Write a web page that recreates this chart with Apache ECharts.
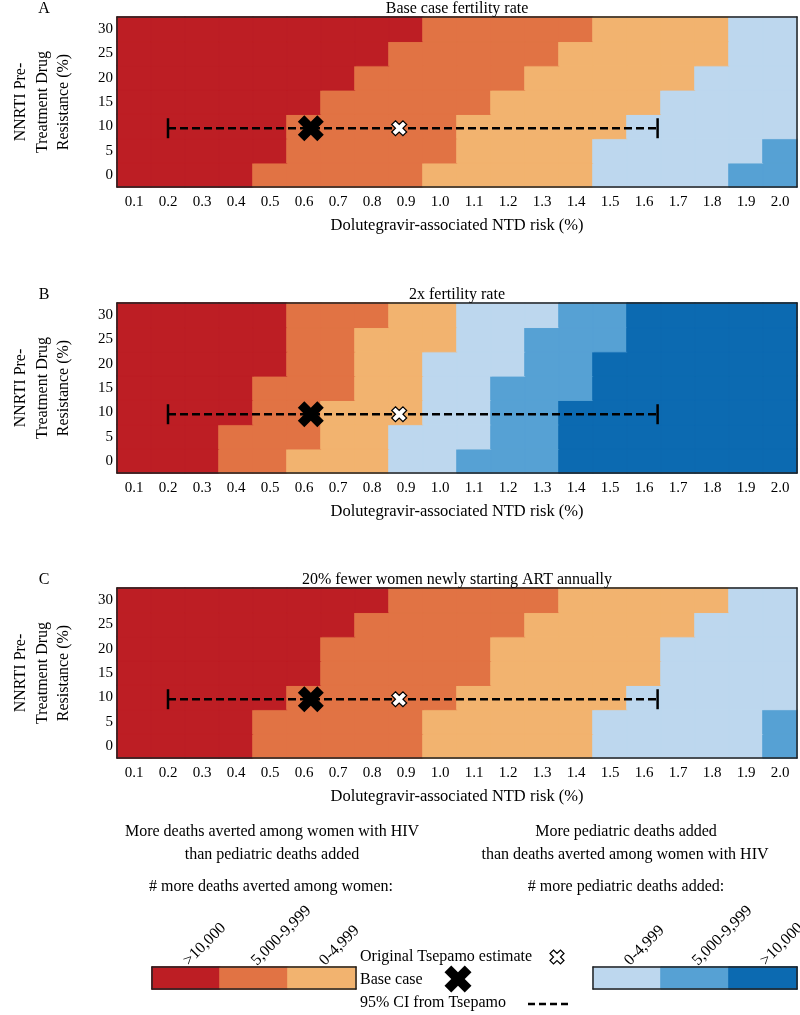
<!DOCTYPE html>
<html>
<head>
<meta charset="utf-8">
<script src="https://cdn.jsdelivr.net/npm/echarts@6/dist/echarts.min.js"></script>
<style>
html,body{margin:0;padding:0;background:#fff;}
#main{width:800px;height:1015px;}
</style>
</head>
<body>
<div id="main"></div>
<script>
(function(){
    // axis categories
    var riskLabels = ['0.1','0.2','0.3','0.4','0.5','0.6','0.7','0.8','0.9','1.0',
                      '1.1','1.2','1.3','1.4','1.5','1.6','1.7','1.8','1.9','2.0'];
    var resistLabels = ['0','5','10','15','20','25','30'];

    // outcome groups: 0-2 deaths averted among women, 3-5 pediatric deaths added
    var groupColors = ['#bd1e24','#e17344','#f2b36f','#bdd7ee','#56a1d4','#0c6ab1'];
    var leftGroups = ['>10,000','5,000-9,999','0-4,999'];
    var rightGroups = ['0-4,999','5,000-9,999','>10,000'];

    var panelTitles = ['Base case fertility rate','2x fertility rate','20% fewer women newly starting ART annually'];
    var panelLetters = ['A','B','C'];

    // one row per resistance level, 0% first
    var panelA = [
        [0,0,0,0,1,1,1,1,1,2,2,2,2,2,3,3,3,3,4,4],
        [0,0,0,0,0,1,1,1,1,1,2,2,2,2,3,3,3,3,3,4],
        [0,0,0,0,0,1,1,1,1,1,2,2,2,2,2,3,3,3,3,3],
        [0,0,0,0,0,0,1,1,1,1,1,2,2,2,2,2,3,3,3,3],
        [0,0,0,0,0,0,0,1,1,1,1,1,2,2,2,2,2,3,3,3],
        [0,0,0,0,0,0,0,0,1,1,1,1,1,2,2,2,2,2,3,3],
        [0,0,0,0,0,0,0,0,0,1,1,1,1,1,2,2,2,2,3,3]
    ];
    var panelB = [
        [0,0,0,1,1,2,2,2,3,3,4,4,4,5,5,5,5,5,5,5],
        [0,0,0,1,1,1,2,2,3,3,3,4,4,5,5,5,5,5,5,5],
        [0,0,0,0,1,1,2,2,2,3,3,4,4,5,5,5,5,5,5,5],
        [0,0,0,0,1,1,1,2,2,3,3,4,4,4,5,5,5,5,5,5],
        [0,0,0,0,0,1,1,2,2,3,3,3,4,4,5,5,5,5,5,5],
        [0,0,0,0,0,1,1,2,2,2,3,3,4,4,4,5,5,5,5,5],
        [0,0,0,0,0,1,1,1,2,2,3,3,3,4,4,5,5,5,5,5]
    ];
    var panelC = [
        [0,0,0,0,1,1,1,1,1,2,2,2,2,2,3,3,3,3,3,4],
        [0,0,0,0,1,1,1,1,1,2,2,2,2,2,3,3,3,3,3,4],
        [0,0,0,0,0,1,1,1,1,1,2,2,2,2,2,3,3,3,3,3],
        [0,0,0,0,0,0,1,1,1,1,1,2,2,2,2,2,3,3,3,3],
        [0,0,0,0,0,0,1,1,1,1,1,2,2,2,2,2,3,3,3,3],
        [0,0,0,0,0,0,0,1,1,1,1,1,2,2,2,2,2,3,3,3],
        [0,0,0,0,0,0,0,0,1,1,1,1,1,2,2,2,2,2,3,3]
    ];

    // NTD risk (%), resistance (%)
    var baseCase = [0.62, 9.6];
    var tsepamo = [0.88, 9.6];
    var tsepamoCI = [0.2, 1.64];

    var font = 'Liberation Serif';
    // bold X shape, 10x10 box
    var xShape = [[2.5,0],[5,2.5],[7.5,0],[10,2.5],[7.5,5],[10,7.5],[7.5,10],[5,7.5],[2.5,10],[0,7.5],[2.5,5],[0,2.5]];
    var xPath = 'path://M' + xShape.map(function(p){ return p.join(','); }).join(' L') + ' Z';
    var frame = {show: true, onZero: false, lineStyle: {color: '#222', width: 1.5}};
    var hidden = {axisTick: {show: false}, axisLabel: {show: false}, splitLine: {show: false}};

    var cell = function(c, r, g){
        var col = groupColors[g];
        return {value: [c, r, g], itemStyle: {color: col, borderColor: col, borderWidth: 1}};
    };

    var myChart = echarts.init(document.getElementById('main'));

    var grids = [], xAxes = [], yAxes = [], series = [], titles = [];
    var tops = [17, 303, 588];

    [panelA, panelB, panelC].forEach(function(rows, i){
        grids.push({left: 117, top: tops[i], width: 680, height: 170, outerBoundsMode: 'none'});
        // category axes (bottom / left)
        xAxes.push({
            type: 'category', gridIndex: i, data: riskLabels, z: 3,
            axisLine: frame, axisTick: {show: false},
            axisLabel: {color: '#000', fontFamily: font, fontSize: 15, margin: 8},
            name: 'Dolutegravir-associated NTD risk (%)', nameLocation: 'middle', nameGap: 30,
            nameTextStyle: {color: '#000', fontFamily: font, fontSize: 16.5}
        });
        yAxes.push({
            type: 'category', gridIndex: i, data: resistLabels, z: 3,
            axisLine: frame, axisTick: {show: false},
            axisLabel: {color: '#000', fontFamily: font, fontSize: 15, margin: 4},
            name: 'NNRTI Pre-\nTreatment Drug\nResistance (%)', nameLocation: 'middle', nameGap: 42,
            nameRotate: 90,
            nameTextStyle: {color: '#000', fontFamily: font, fontSize: 16, lineHeight: 21.5}
        });
        // value axes for markers (top / right), also close the frame
        xAxes.push(Object.assign({
            type: 'value', gridIndex: i, min: 0.05, max: 2.05, position: 'top', z: 3, axisLine: frame
        }, hidden));
        yAxes.push(Object.assign({
            type: 'value', gridIndex: i, min: -2.5, max: 32.5, position: 'right', z: 3, axisLine: frame
        }, hidden));

        titles.push({
            text: panelTitles[i], left: 457, top: tops[i] - 16, textAlign: 'center', padding: 0,
            textStyle: {color: '#000', fontFamily: font, fontSize: 16, fontWeight: 'normal'}
        });
        titles.push({
            text: panelLetters[i], left: 44, top: tops[i] - 16, textAlign: 'center', padding: 0,
            textStyle: {color: '#000', fontFamily: font, fontSize: 16, fontWeight: 'normal'}
        });

        var cells = [];
        rows.forEach(function(row, r){
            row.forEach(function(g, c){ cells.push(cell(c, r, g)); });
        });
        series.push({
            type: 'heatmap', xAxisIndex: i * 2, yAxisIndex: i * 2, data: cells,
            emphasis: {disabled: true}
        });
        series.push({
            type: 'line', xAxisIndex: i * 2 + 1, yAxisIndex: i * 2 + 1, z: 4,
            data: [[tsepamoCI[0], baseCase[1]], [tsepamoCI[1], baseCase[1]]],
            symbol: 'none', lineStyle: {color: '#000', width: 2.5, type: [8, 4]}
        });
        series.push({
            type: 'scatter', xAxisIndex: i * 2 + 1, yAxisIndex: i * 2 + 1, z: 4,
            data: [[tsepamoCI[0], baseCase[1]], [tsepamoCI[1], baseCase[1]]],
            symbol: 'rect', symbolSize: [2.5, 20], itemStyle: {color: '#000', opacity: 1}
        });
        series.push({
            type: 'scatter', xAxisIndex: i * 2 + 1, yAxisIndex: i * 2 + 1, z: 5,
            data: [baseCase], symbol: xPath, symbolSize: 26, itemStyle: {color: '#000', opacity: 1}
        });
        series.push({
            type: 'scatter', xAxisIndex: i * 2 + 1, yAxisIndex: i * 2 + 1, z: 5,
            data: [tsepamo], symbol: xPath, symbolSize: 15,
            itemStyle: {color: '#fff', borderColor: '#000', borderWidth: 1.2, opacity: 1}
        });
    });

    // colour keys as small heatmaps
    [[leftGroups, 152, 0], [rightGroups, 593, 3]].forEach(function(k, j){
        var gi = 3 + j;
        grids.push({left: k[1], top: 967, width: 204, height: 22, outerBoundsMode: 'none'});
        xAxes.push({
            type: 'category', gridIndex: gi, data: k[0], position: 'top', z: 3,
            axisLine: {show: false}, axisTick: {show: false},
            axisLabel: {color: '#000', fontFamily: font, fontSize: 16, rotate: 45, margin: 4}
        });
        yAxes.push({
            type: 'category', gridIndex: gi, data: [''], z: 3,
            axisLine: {show: false}, axisTick: {show: false}, axisLabel: {show: false}
        });
        ['bottom', 'top'].forEach(function(pos){
            xAxes.push(Object.assign({type: 'value', gridIndex: gi, position: pos, min: 0, max: 1, z: 3, axisLine: frame}, hidden));
        });
        ['left', 'right'].forEach(function(pos){
            yAxes.push(Object.assign({type: 'value', gridIndex: gi, position: pos, min: 0, max: 1, z: 3, axisLine: frame}, hidden));
        });
        series.push({
            type: 'heatmap', xAxisIndex: xAxes.length - 3, yAxisIndex: yAxes.length - 3,
            data: k[0].map(function(name, c){ return cell(c, 0, k[2] + c); }),
            emphasis: {disabled: true}
        });
    });

    var label = function(s, x, y, align){
        return {type: 'text', x: x, y: y, style: {
            text: s, fill: '#000', font: '16px "Liberation Serif"', textAlign: align || 'left', textVerticalAlign: 'middle'
        }};
    };
    var xIcon = function(cx, cy, size, style){
        return {type: 'polygon', shape: {points: xShape.map(function(p){
            return [cx + (p[0] - 5) * size / 10, cy + (p[1] - 5) * size / 10];
        })}, style: style};
    };

    var option = {
        animation: false,
        title: titles,
        grid: grids,
        xAxis: xAxes,
        yAxis: yAxes,
        series: series,
        graphic: [
            label('More deaths averted among women with HIV', 272, 832, 'center'),
            label('than pediatric deaths added', 272, 855, 'center'),
            label('# more deaths averted among women:', 271, 887, 'center'),
            label('More pediatric deaths added', 626, 832, 'center'),
            label('than deaths averted among women with HIV', 625, 855, 'center'),
            label('# more pediatric deaths added:', 626, 887, 'center'),
            label('Original Tsepamo estimate', 360, 957),
            label('Base case', 360, 980),
            label('95% CI from Tsepamo', 360, 1003),
            xIcon(557, 957, 14, {fill: '#fff', stroke: '#000', lineWidth: 1.2}),
            xIcon(458, 979, 27, {fill: '#000'}),
            {type: 'line', shape: {x1: 528, y1: 1004, x2: 568, y2: 1004},
                style: {stroke: '#000', lineWidth: 2.5, lineDash: [7, 4]}}
        ]
    };
    myChart.setOption(option);
    window.addEventListener('resize', function(){ myChart.resize(); });
})();
</script>
</body>
</html>
